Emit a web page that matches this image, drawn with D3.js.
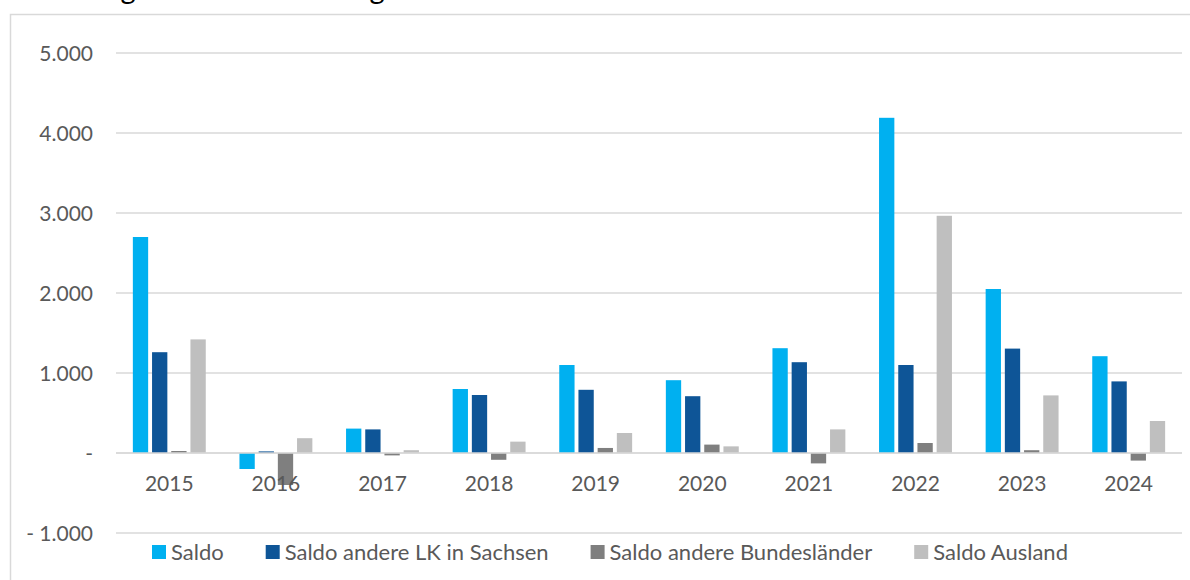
<!DOCTYPE html>
<html>
<head>
<meta charset="utf-8">
<script src="https://cdn.jsdelivr.net/npm/d3@7/dist/d3.min.js"></script>
<style>
    body { margin: 0; background: #fff; }
    svg { display: block; font-family: Lato, "Open Sans", sans-serif; }
</style>
</head>
<body>
<svg width="1190" height="580"></svg>
<script>
// data
const years = ["2015", "2016", "2017", "2018", "2019", "2020", "2021", "2022", "2023", "2024"];
const saldo = [2700, -200, 305, 800, 1100, 910, 1310, 4190, 2050, 1210];
const saldoLK = [1260, 20, 295, 725, 790, 710, 1135, 1100, 1305, 895];
const saldoBL = [25, -400, -30, -85, 63, 105, -130, 125, 35, -95];
const saldoAusland = [1420, 185, 35, 142, 250, 83, 295, 2965, 720, 400];
const seriesNames = ["Saldo", "Saldo andere LK in Sachsen", "Saldo andere Bundesländer", "Saldo Ausland"];
const yTicks = [-1000, 0, 1000, 2000, 3000, 4000, 5000];
const yTickLabels = ["- 1.000", "-", "1.000", "2.000", "3.000", "4.000", "5.000"];
const titleText = "Wanderungen nach Herkunftsgebiet";

const colors = ["#00B0F0", "#0E5597", "#7F7F7F", "#BFBFBF"];
const values = [saldo, saldoLK, saldoBL, saldoAusland];

const svg = d3.select("svg");
const textColor = "#595959";
const gridColor = "#D9D9D9";
const axisFont = 21;
const legendFont = 22;

svg.append("rect").attr("width", 1190).attr("height", 580).attr("fill", "#fff");

// chart frame (runs off the right and bottom edge)
svg.append("path")
    .attr("d", "M10.5,600 V14.5 H1200")
    .attr("fill", "none")
    .attr("stroke", gridColor)
    .attr("stroke-width", 1.5);

// title sits mostly above the visible area, only descenders show
const title = svg.append("text")
    .attr("x", 0).attr("y", -1)
    .attr("font-size", 24)
    .attr("fill", "#000")
    .text(titleText);
{
    const node = title.node();
    const e1 = node.getExtentOfChar(8), e2 = node.getExtentOfChar(26);
    const c1 = e1.x + e1.width / 2, c2 = e2.x + e2.width / 2;
    const fs = 24 * (377 - 128) / (c2 - c1);
    title.attr("font-size", fs).attr("x", 128 - c1 * fs / 24);
}

const x0 = d3.scaleBand().domain(years).range([116, 1182]);
const x1 = d3.scaleBand().domain(d3.range(4)).range([-36.45, 36.45]).paddingInner(0.203);
const y = d3.scaleLinear().domain([-1000, 5000]).range([533, 53]);

// gridlines
svg.append("g")
    .selectAll("line")
    .data(yTicks)
    .join("line")
    .attr("x1", 116).attr("x2", 1182)
    .attr("y1", d => y(d)).attr("y2", d => y(d))
    .attr("stroke", gridColor)
    .attr("stroke-width", 1.5);

// y labels
svg.append("g")
    .selectAll("text")
    .data(yTicks)
    .join("text")
    .attr("x", 93)
    .attr("y", d => y(d))
    .attr("dy", "0.36em")
    .attr("text-anchor", "end")
    .attr("font-size", axisFont)
    .attr("fill", textColor)
    .text((d, i) => yTickLabels[i]);

// bars
const groups = svg.append("g")
    .selectAll("g")
    .data(years)
    .join("g")
    .attr("transform", d => `translate(${x0(d) + x0.bandwidth() / 2},0)`);

groups.selectAll("rect")
    .data((d, i) => values.map((v, s) => ({ s, v: v[i] })))
    .join("rect")
    .attr("x", d => x1(d.s))
    .attr("width", x1.bandwidth())
    .attr("y", d => y(Math.max(0, d.v)))
    .attr("height", d => Math.abs(y(d.v) - y(0)))
    .attr("fill", d => colors[d.s]);

// zero line on top
svg.append("line")
    .attr("x1", 116).attr("x2", 1182)
    .attr("y1", y(0)).attr("y2", y(0))
    .attr("stroke", gridColor)
    .attr("stroke-width", 1.5);

// category labels
svg.append("g")
    .selectAll("text")
    .data(years)
    .join("text")
    .attr("x", d => x0(d) + x0.bandwidth() / 2)
    .attr("y", 491)
    .attr("text-anchor", "middle")
    .attr("font-size", axisFont)
    .attr("fill", textColor)
    .text(d => d);

// legend
const legend = svg.append("g");
let lx = 152;
seriesNames.forEach((name, i) => {
    legend.append("rect")
        .attr("x", lx).attr("y", 545)
        .attr("width", 14).attr("height", 14)
        .attr("fill", colors[i]);
    const t = legend.append("text")
        .attr("x", lx + 19).attr("y", 559.5)
        .attr("font-size", legendFont)
        .attr("fill", textColor)
        .text(name);
    lx += 19 + t.node().getComputedTextLength() + 42;
});
</script>
</body>
</html>
